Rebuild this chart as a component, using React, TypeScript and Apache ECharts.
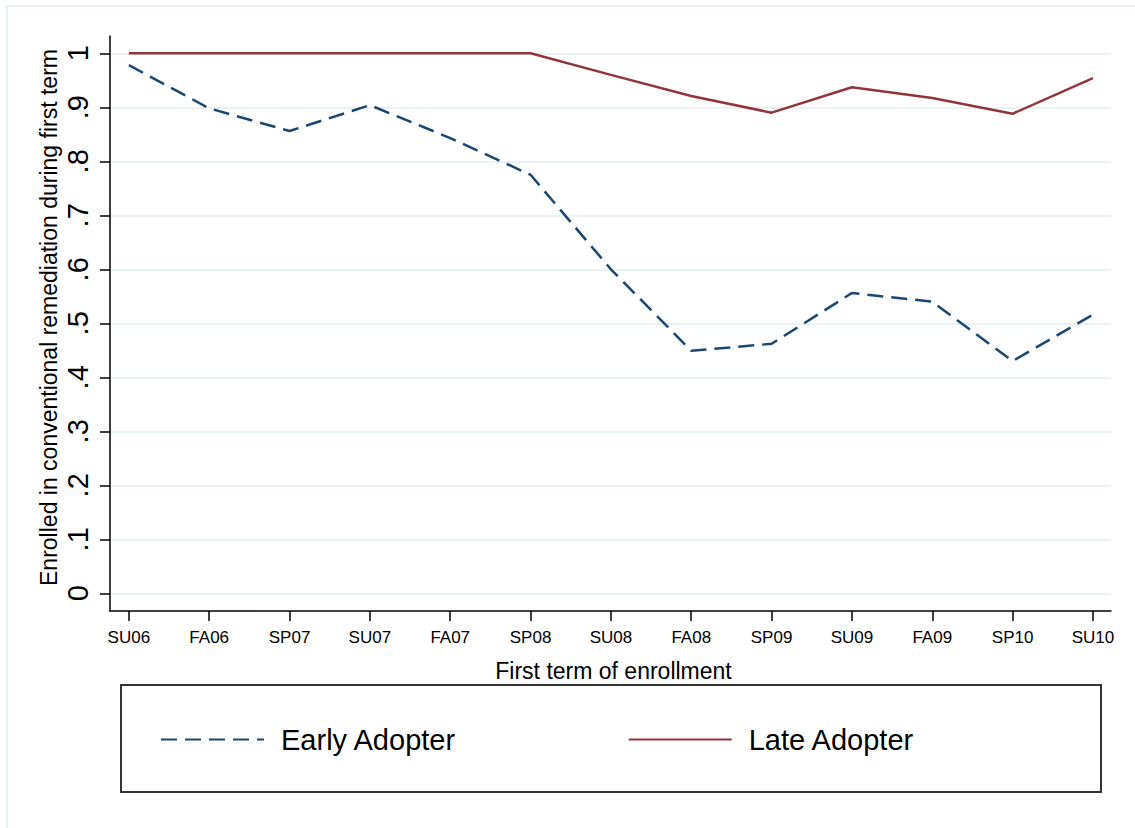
import React, { useEffect, useRef } from "react";
import * as echarts from "echarts";

const categories = ["SU06", "FA06", "SP07", "SU07", "FA07", "SP08", "SU08", "FA08", "SP09", "SU09", "FA09", "SP10", "SU10"];
const earlyAdopter = [0.978, 0.898, 0.856, 0.904, 0.843, 0.775, 0.6, 0.449, 0.462, 0.556, 0.54, 0.43, 0.516];
const lateAdopter = [1, 1, 1, 1, 1, 1, 0.96, 0.921, 0.89, 0.937, 0.917, 0.888, 0.954];
const yTicks = [0, 0.1, 0.2, 0.3, 0.4, 0.5, 0.6, 0.7, 0.8, 0.9, 1];
const xTicks = categories.map((_, i) => i);

const FONT = "'Liberation Sans', Arial, Helvetica, sans-serif";
const NAVY = "#1a476f";
const MAROON = "#90353b";

function yLabel(v: number): string {
  const r = Math.round(v * 10);
  if (r === 0) return "0";
  if (r === 10) return "1";
  return "." + r;
}

export default function App() {
  const ref = useRef<HTMLDivElement>(null);
  useEffect(() => {
    if (!ref.current) return;
    const chart = echarts.init(ref.current, null, { renderer: "svg" });
    chart.setOption({
      animation: false,
      backgroundColor: "#ffffff",
      textStyle: { fontFamily: FONT },
      grid: { left: 110, right: 24, top: 36, bottom: 217, containLabel: false },
      graphic: [
        {
          type: "rect",
          shape: { x: 7, y: 6, width: 1300, height: 1000 },
          style: { fill: "none", stroke: "#e8eff3", lineWidth: 2 },
          silent: true,
          z: -10,
        },
        {
          type: "rect",
          shape: { x: 121, y: 685, width: 980, height: 107 },
          style: { fill: "none", stroke: "#333333", lineWidth: 2 },
          silent: true,
        },
      ],
      legend: {
        left: 160,
        top: 725,
        padding: 0,
        itemWidth: 103,
        itemHeight: 20,
        itemGap: 171,
        itemStyle: { color: "rgba(0,0,0,0)", borderWidth: 0, opacity: 0 },
        textStyle: { fontSize: 29, color: "#000", fontFamily: FONT, padding: [0, 0, 0, 12] },
        data: ["Early Adopter", "Late Adopter"],
      },
      xAxis: {
        type: "value",
        min: -0.235,
        max: 12.225,
        name: "First term of enrollment",
        nameLocation: "middle",
        nameGap: 48,
        nameMoveOverlap: false,
        nameTextStyle: { fontSize: 23, color: "#000", fontFamily: FONT, padding: [0, 0, 0, 6] },
        axisLine: { show: true, onZero: false, lineStyle: { color: "#000", width: 1.5 } },
        axisTick: { show: true, length: 10, customValues: xTicks, lineStyle: { color: "#000", width: 1.5 } },
        axisLabel: {
          customValues: xTicks,
          fontSize: 17,
          color: "#000",
          margin: 18,
          fontFamily: FONT,
          formatter: (v: number) => categories[Math.round(v)] ?? "",
        },
        splitLine: { show: false },
      },
      yAxis: {
        type: "value",
        min: -0.0328,
        max: 1.032,
        name: "Enrolled in conventional remediation during first term",
        nameLocation: "middle",
        nameGap: 50,
        nameMoveOverlap: false,
        nameTextStyle: { fontSize: 23, color: "#000", fontFamily: FONT, padding: [0, 0, 0, 12] },
        axisLine: { show: true, onZero: false, lineStyle: { color: "#000", width: 1.5 } },
        axisTick: { show: true, length: 10, customValues: yTicks, lineStyle: { color: "#000", width: 1.5 } },
        axisLabel: {
          customValues: yTicks,
          rotate: 90,
          fontSize: 29,
          color: "#000",
          margin: 18,
          fontFamily: FONT,
          formatter: (v: number) => "{t|" + yLabel(v) + "}",
          rich: { t: { fontSize: 29, fontFamily: FONT, color: "#000" } },
        },
        splitLine: { show: true, lineStyle: { color: "#eaf2f3", width: 2 } },
      },
      series: [
        {
          name: "Early Adopter",
          type: "line",
          symbol: "none",
          data: earlyAdopter.map((v, i) => [i, v]),
          lineStyle: { color: NAVY, width: 2.5, type: [16, 8] },
          itemStyle: { color: NAVY },
          z: 3,
        },
        {
          name: "Late Adopter",
          type: "line",
          symbol: "none",
          data: lateAdopter.map((v, i) => [i, v]),
          lineStyle: { color: MAROON, width: 2.5, type: "solid" },
          itemStyle: { color: MAROON },
          z: 2,
        },
      ],
    });
    return () => chart.dispose();
  }, []);
  return <div ref={ref} style={{ position: "absolute", left: 0, top: 0, width: 1135, height: 828 }} />;
}
